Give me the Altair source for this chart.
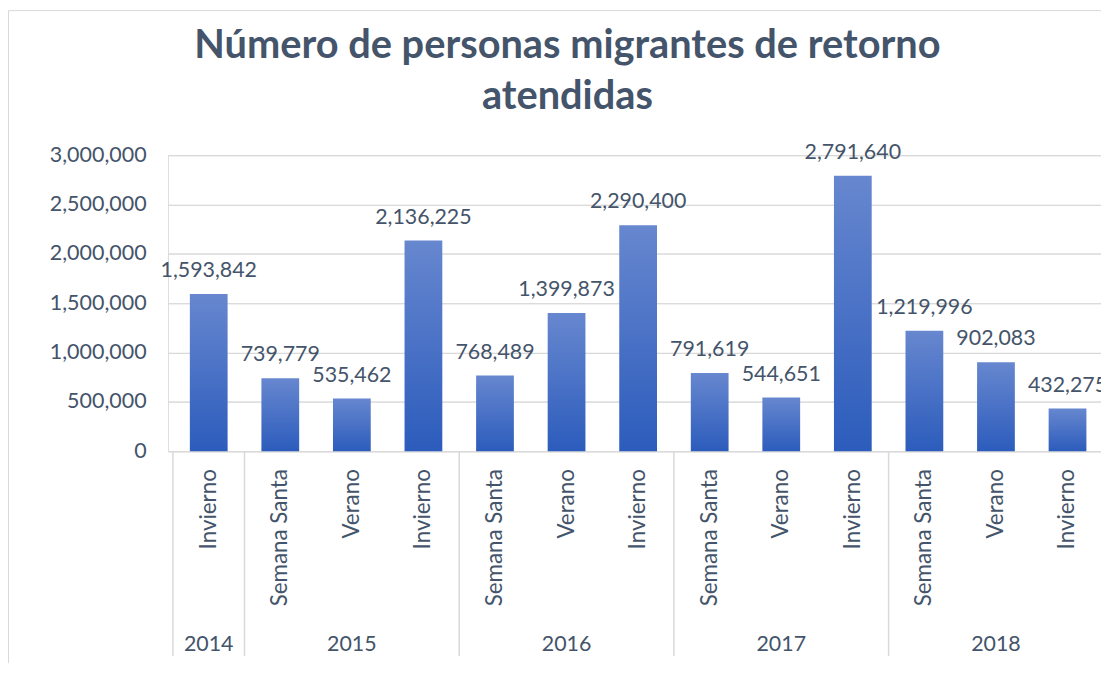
import altair as alt
import pandas as pd

# ---- data ----
years = ["2014", "2015", "2015", "2015", "2016", "2016", "2016",
         "2017", "2017", "2017", "2018", "2018", "2018"]
seasons = ["Invierno", "Semana Santa", "Verano", "Invierno", "Semana Santa", "Verano", "Invierno",
           "Semana Santa", "Verano", "Invierno", "Semana Santa", "Verano", "Invierno"]
values = [1593842, 739779, 535462, 2136225, 768489, 1399873, 2290400,
          791619, 544651, 2791640, 1219996, 902083, 432275]
y_ticks = [0, 500000, 1000000, 1500000, 2000000, 2500000, 3000000]
title_lines = ["Número de personas migrantes de retorno", "atendidas"]

df = pd.DataFrame({"idx": list(range(len(values))), "year": years,
                   "season": seasons, "value": values})

groups = []
for y in dict.fromkeys(years):
    ids = [i for i, v in enumerate(years) if v == y]
    groups.append({"year": y, "center": (ids[0] + ids[-1]) / 2,
                   "start": ids[0] - 0.5, "end": ids[-1] + 0.5})
gdf = pd.DataFrame(groups)
sdf = pd.DataFrame({"pos": sorted(set(gdf["start"]) | set(gdf["end"]))})
tdf = pd.DataFrame({"line": title_lines, "n": list(range(len(title_lines)))})

# ---- layout ----
SLOT = 72.8
W = 939
H = 298
xmax = W / SLOT - 0.5
TEXT = "#44546A"
GRID = "#D9D9D9"
FONT = "Lato"

xscale = alt.Scale(domain=[-0.5, xmax], nice=False, zero=False)
yscale = alt.Scale(domain=[0, 3000000], nice=False)
X = alt.X("idx:Q", scale=xscale, axis=None)
yaxis = alt.Axis(values=y_ticks, format=",", labelExpr="format(datum.value, ',')",
                 grid=True, gridColor=GRID, gridWidth=1, domain=False, ticks=False,
                 labelFont=FONT, labelFontSize=21.6, labelColor=TEXT, labelPadding=22,
                 title=None)
Y = alt.Y("value:Q", scale=yscale, axis=yaxis)

grad = alt.LinearGradient(
    gradient="linear",
    stops=[alt.GradientStop(color="#6787CF", offset=0),
           alt.GradientStop(color="#2C5CBC", offset=1)],
    x1=0, x2=0, y1=0, y2=1,
)

border = alt.Chart(pd.DataFrame({"a": [0]})).mark_rect(
    fillOpacity=0, stroke=GRID, strokeWidth=1
).encode(
    x=alt.value(-160.5), x2=alt.value(W + 200),
    y=alt.value(-145.5), y2=alt.value(H + 400),
)

title = alt.Chart(tdf).mark_text(font=FONT, fontSize=40, fontWeight="bold",
                                 color=TEXT, align="center",
                                 baseline="alphabetic").encode(
    x=alt.value(402),
    y=alt.Y("n:Q", scale=alt.Scale(domain=[0, 1], range=[-98, -46]), axis=None),
    text="line:N",
)

base = alt.Chart(df)

bars = base.mark_bar(size=38, color=grad).encode(x=X, y=Y)

vals = base.mark_text(font=FONT, fontSize=21.5, color=TEXT, baseline="alphabetic",
                      dy=-17).encode(
    x=X, y=Y, text=alt.Text("value:Q", format=","),
)

cats = base.mark_text(font=FONT, fontSize=22.5, color=TEXT, angle=270,
                      align="right", baseline="middle").encode(
    x=X, y=alt.value(H + 18), text="season:N",
)

yrs = alt.Chart(gdf).mark_text(font=FONT, fontSize=21.5, color=TEXT,
                               baseline="alphabetic", align="center").encode(
    x=alt.X("center:Q", scale=xscale, axis=None),
    y=alt.value(H + 201), text="year:N",
)

seps = alt.Chart(sdf).mark_rule(color=GRID, strokeWidth=1.5).encode(
    x=alt.X("pos:Q", scale=xscale, axis=None),
    y=alt.value(H), y2=alt.value(H + 206),
)

chart = alt.layer(border, bars, vals, cats, yrs, seps, title).resolve_scale(
    y="independent"
).properties(
    width=W, height=H,
    autosize=alt.AutoSizeParams(type="none"),
    padding={"left": 161, "top": 146, "right": 0, "bottom": 211},
).configure_view(strokeWidth=0).configure(background="white")

chart.save("out.html", embed_options={"renderer": "svg", "actions": False})
